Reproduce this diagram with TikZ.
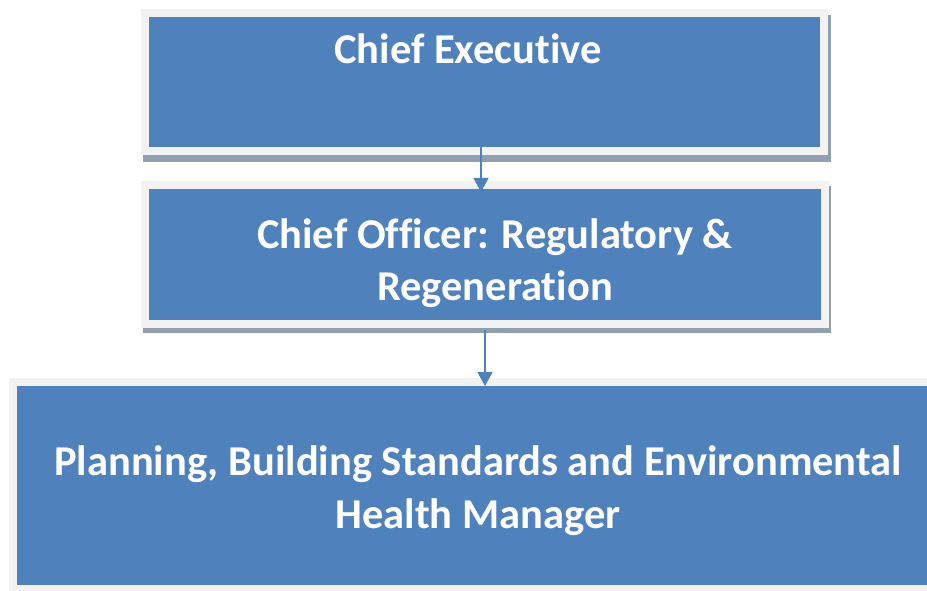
\documentclass[tikz,border=0pt]{standalone}
\usepackage{fontspec}
\setmainfont{Carlito}[Ligatures=CommonOff]
\usetikzlibrary{arrows.meta}
\definecolor{boxblue}{HTML}{4F81BD}
\definecolor{framegrey}{HTML}{F2F2F2}
\definecolor{shadowgrey}{HTML}{929FB2}

\begin{document}
\begin{tikzpicture}[
		x=1pt,y=1pt,
		>={Triangle[width=15pt,length=14pt]},
		,
		post/.style={rectangle,fill=boxblue,draw=framegrey,line width=8pt,inner sep=0pt,outer sep=0pt},
		posttext/.style={text=white,font=\fontsize{42.5}{52.5}\selectfont\bfseries,align=center,inner sep=0pt},
		link/.style={->,color=boxblue,line width=1.5pt}
		]
		\useasboundingbox (0,0) rectangle (927,590);
		\clip (0,0) rectangle (927,590);
		
		\fill[shadowgrey] (143,428) rectangle (831,575);
		\fill[shadowgrey] (143,257) rectangle (831,404);
		
		\node[post,minimum width=679pt,minimum height=138pt](ce) at (484.5,508){};
		\node[post,minimum width=680pt,minimum height=139pt](co) at (485,335.5){};
		\node[post,minimum width=931pt,minimum height=207pt](pm) at (478.5,104.5){};
		
		\node[posttext,anchor=base](ceText) at (468,526){Chief Executive};
		\node[posttext,anchor=base](coText) at (495,289.4){Chief Officer: Regulatory \&\\Regeneration};
		\node[posttext,anchor=base](pmText) at (478,62){Planning, Building Standards and Environmental\\Health Manager};
		
		\draw[link] ([xshift=-3.5pt,yshift=17pt]ce.south) -- ([xshift=-4pt,yshift=-7pt]co.north);
		\draw[link] ([yshift=-6pt]co.south) -- ([xshift=6.5pt,yshift=-4pt]pm.north);
		
		\end{tikzpicture}
\end{document}
